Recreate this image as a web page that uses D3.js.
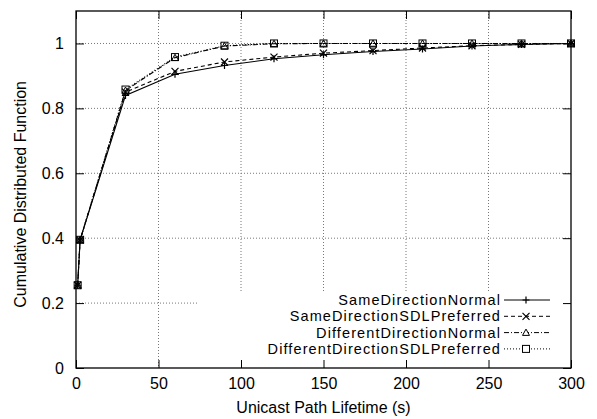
<!DOCTYPE html>
<html>
<head>
<meta charset="utf-8">
<script src="https://cdn.jsdelivr.net/npm/d3@7"></script>
<style>
  body { margin: 0; background: #fff; }
  svg { font-family: "Liberation Sans", Arial, sans-serif; }
  .grid line { stroke: #777; stroke-dasharray: 1,2; stroke-width: 1; }
</style>
</head>
<body>
<script>
// x positions of samples (seconds)
var lifetimes = [1, 2.5, 30, 60, 90, 120, 150, 180, 210, 240, 270, 300];

var sameNormal   = [0.255, 0.395, 0.840, 0.905, 0.932, 0.953, 0.965, 0.975, 0.983, 0.992, 0.997, 1.0];
var sameSDL      = [0.255, 0.395, 0.850, 0.914, 0.943, 0.958, 0.970, 0.978, 0.986, 0.993, 0.997, 1.0];
var diffNormal   = [0.255, 0.395, 0.855, 0.956, 0.992, 0.999, 1.0, 1.0, 1.0, 1.0, 1.0, 1.0];
var diffSDL      = [0.255, 0.395, 0.858, 0.958, 0.993, 1.0, 1.0, 1.0, 1.0, 1.0, 1.0, 1.0];

var seriesNames = ["SameDirectionNormal", "SameDirectionSDLPreferred", "DifferentDirectionNormal", "DifferentDirectionSDLPreferred"];
var xTicks = [0, 50, 100, 150, 200, 250, 300];
var yTicks = [0, 0.2, 0.4, 0.6, 0.8, 1];

var series = [
    { name: seriesNames[0], values: sameNormal, dash: null,        marker: "plus" },
    { name: seriesNames[1], values: sameSDL,    dash: "4,3",       marker: "cross" },
    { name: seriesNames[2], values: diffNormal, dash: "5,2,1,2",   marker: "triangle" },
    { name: seriesNames[3], values: diffSDL,    dash: "1,2",       marker: "square" }
];

var svg = d3.select("body").append("svg")
    .attr("width", 597)
    .attr("height", 419);

var margin = { top: 11, right: 26, bottom: 51, left: 76 },
    width = +svg.attr("width") - margin.left - margin.right,
    height = +svg.attr("height") - margin.top - margin.bottom,
    g = svg.append("g").attr("transform", "translate(" + margin.left + "," + margin.top + ")");

var x = d3.scaleLinear().domain([0, 300]).range([0, width]);
var y = d3.scaleLinear().domain([0, 1.1]).range([height, 0]);

// grid
var grid = g.append("g").attr("class", "grid");
grid.selectAll(".gx")
    .data(xTicks.filter(function (d) { return d > 0 && d < 300; }))
    .enter().append("line")
    .attr("x1", x).attr("x2", x)
    .attr("y1", 0).attr("y2", height);
grid.selectAll(".gy")
    .data(yTicks.filter(function (d) { return d > 0; }))
    .enter().append("line")
    .attr("x1", 0).attr("x2", width)
    .attr("y1", y).attr("y2", y);

// key box hides the grid behind it
var keyX = x(74), keyY = 281;
g.append("rect")
    .attr("x", keyX).attr("y", keyY)
    .attr("width", width - keyX).attr("height", height - keyY)
    .attr("fill", "#fff");

// axes with inward ticks
function styleAxis(sel) {
    sel.select(".domain").remove();
    sel.selectAll(".tick line").attr("stroke", "#000").attr("stroke-width", 1);
    sel.selectAll("text").attr("fill", "#000").style("font-size", "16px");
}

g.append("g")
    .attr("transform", "translate(0," + height + ")")
    .call(d3.axisBottom(x).tickValues(xTicks).tickSizeInner(-8).tickPadding(10))
    .call(styleAxis);
g.append("g")
    .call(d3.axisTop(x).tickValues(xTicks).tickSizeInner(-8).tickFormat(""))
    .call(styleAxis);
g.append("g")
    .call(d3.axisLeft(y).tickValues(yTicks).tickSizeInner(-8).tickPadding(12).tickFormat(d3.format("")))
    .call(styleAxis);
g.append("g")
    .attr("transform", "translate(" + width + ",0)")
    .call(d3.axisRight(y).tickValues(yTicks).tickSizeInner(-8).tickFormat(""))
    .call(styleAxis);

g.append("rect")
    .attr("width", width).attr("height", height)
    .attr("fill", "none").attr("stroke", "#000").attr("stroke-width", 1.3);

// markers
function drawMarker(sel, type, cx, cy, fill) {
    var s = 3.5;
    if (type === "plus") {
        sel.append("path").attr("d", "M" + (cx - s) + "," + cy + "H" + (cx + s) + "M" + cx + "," + (cy - s) + "V" + (cy + s))
            .attr("stroke", "#000").attr("stroke-width", 1.2);
    } else if (type === "cross") {
        sel.append("path").attr("d", "M" + (cx - s) + "," + (cy - s) + "L" + (cx + s) + "," + (cy + s) + "M" + (cx - s) + "," + (cy + s) + "L" + (cx + s) + "," + (cy - s))
            .attr("stroke", "#000").attr("stroke-width", 1.2);
    } else if (type === "triangle") {
        sel.append("path").attr("d", "M" + cx + "," + (cy - s) + "L" + (cx + s) + "," + (cy + s * 0.8) + "L" + (cx - s) + "," + (cy + s * 0.8) + "Z")
            .attr("stroke", "#000").attr("stroke-width", 1).attr("fill", fill);
    } else {
        sel.append("rect").attr("x", cx - s).attr("y", cy - s).attr("width", 2 * s).attr("height", 2 * s)
            .attr("stroke", "#000").attr("stroke-width", 1).attr("fill", fill);
    }
}

var line = d3.line()
    .x(function (d, i) { return x(lifetimes[i]); })
    .y(function (d) { return y(d); });

series.forEach(function (s) {
    var sg = g.append("g");
    sg.append("path")
        .attr("d", line(s.values))
        .attr("fill", "none")
        .attr("stroke", "#000")
        .attr("stroke-width", 1.1)
        .attr("stroke-dasharray", s.dash);
    s.values.forEach(function (v, i) {
        drawMarker(sg, s.marker, x(lifetimes[i]), y(v), "none");
    });
});

// key
var key = g.append("g")
    .selectAll("g")
    .data(series)
    .enter().append("g")
    .attr("transform", function (d, i) { return "translate(0," + (289 + i * 16.3) + ")"; });

key.append("text")
    .attr("x", 425)
    .attr("dy", "0.35em")
    .style("text-anchor", "end")
    .style("font-size", "14.5px")
    .style("letter-spacing", "1.1px")
    .text(function (d) { return d.name; });

key.append("line")
    .attr("x1", 428).attr("x2", 474)
    .attr("stroke", "#000")
    .attr("stroke-width", 1)
    .attr("stroke-dasharray", function (d) { return d.dash; });

key.each(function (d) {
    drawMarker(d3.select(this), d.marker, 450, 0, "#fff");
});

// axis titles
svg.append("text")
    .attr("x", margin.left + width / 2)
    .attr("y", 413)
    .style("text-anchor", "middle")
    .style("font-size", "16px")
    .text("Unicast Path Lifetime (s)");

svg.append("text")
    .attr("transform", "translate(26," + (margin.top + y(0.535)) + ") rotate(-90)")
    .style("text-anchor", "middle")
    .style("font-size", "16px")
    .text("Cumulative Distributed Function");
</script>
</body>
</html>
